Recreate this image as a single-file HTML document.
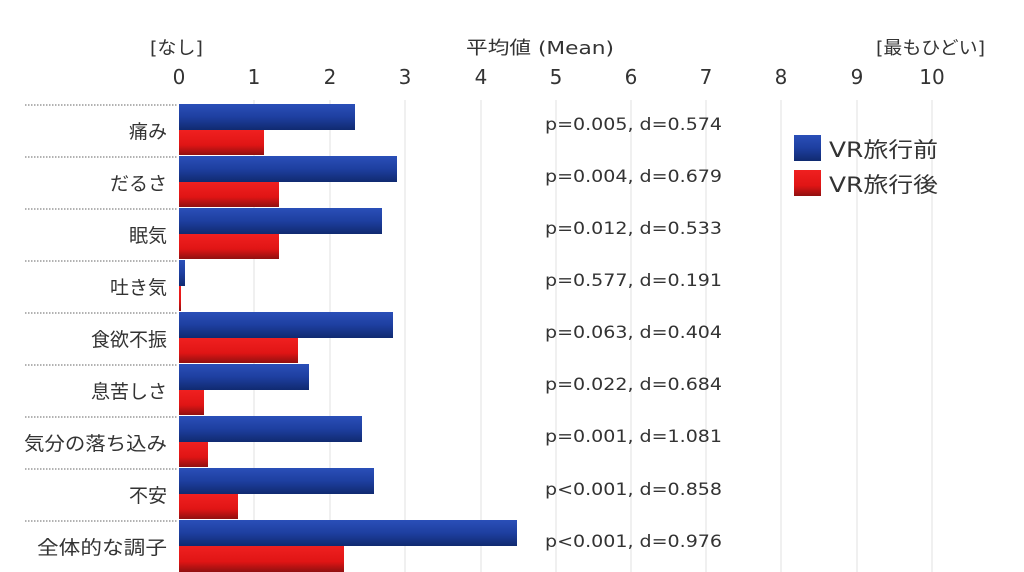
<!DOCTYPE html>
<html><head><meta charset="utf-8"><style>
html,body{margin:0;padding:0;background:#fff;}
svg{display:block;}
text{font-family:"DejaVu Sans","Noto Sans CJK JP",sans-serif;fill:#333;}
</style></head><body>
<svg width="1024" height="572" viewBox="0 0 1024 572" xmlns="http://www.w3.org/2000/svg">
<defs>
<linearGradient id="b" x1="0" y1="0" x2="0" y2="1"><stop offset="0" stop-color="#2a4fb8"/><stop offset="0.5" stop-color="#1e3fa0"/><stop offset="1" stop-color="#102a70"/></linearGradient>
<linearGradient id="r" x1="0" y1="0" x2="0" y2="1"><stop offset="0" stop-color="#f02020"/><stop offset="0.6" stop-color="#e01515"/><stop offset="1" stop-color="#901010"/></linearGradient>
</defs>
<g stroke="#e2e2e2" stroke-width="1">
<line x1="254" y1="100" x2="254" y2="572"/><line x1="330" y1="100" x2="330" y2="572"/><line x1="405" y1="100" x2="405" y2="572"/><line x1="481" y1="100" x2="481" y2="572"/><line x1="556" y1="100" x2="556" y2="572"/><line x1="631" y1="100" x2="631" y2="572"/><line x1="706" y1="100" x2="706" y2="572"/><line x1="781" y1="100" x2="781" y2="572"/><line x1="857" y1="100" x2="857" y2="572"/><line x1="932" y1="100" x2="932" y2="572"/>
</g>
<g stroke="#999" stroke-width="1.5" stroke-dasharray="1.5,1.5">
<line x1="25" y1="105" x2="178" y2="105"/><line x1="25" y1="157" x2="178" y2="157"/><line x1="25" y1="209" x2="178" y2="209"/><line x1="25" y1="261" x2="178" y2="261"/><line x1="25" y1="313" x2="178" y2="313"/><line x1="25" y1="365" x2="178" y2="365"/><line x1="25" y1="417" x2="178" y2="417"/><line x1="25" y1="469" x2="178" y2="469"/><line x1="25" y1="521" x2="178" y2="521"/>
</g>
<g font-size="20" text-anchor="middle">
<text x="179" y="84">0</text><text x="254" y="84">1</text><text x="330" y="84">2</text><text x="405" y="84">3</text><text x="481" y="84">4</text><text x="556" y="84">5</text><text x="631" y="84">6</text><text x="706" y="84">7</text><text x="781" y="84">8</text><text x="857" y="84">9</text><text x="932" y="84">10</text>
</g>
<g font-size="18">
<text x="150" y="54" textLength="53" lengthAdjust="spacingAndGlyphs">[なし]</text>
<text x="466" y="54" textLength="148" lengthAdjust="spacingAndGlyphs">平均値 (Mean)</text>
<text x="876" y="54" textLength="109" lengthAdjust="spacingAndGlyphs">[最もひどい]</text>
</g>
<g>
<rect x="179" y="104" width="176" height="26" fill="url(#b)"/><rect x="179" y="130" width="85" height="25" fill="url(#r)"/>
<rect x="179" y="156" width="218" height="26" fill="url(#b)"/><rect x="179" y="182" width="100" height="25" fill="url(#r)"/>
<rect x="179" y="208" width="203" height="26" fill="url(#b)"/><rect x="179" y="234" width="100" height="25" fill="url(#r)"/>
<rect x="179" y="260" width="6" height="26" fill="url(#b)"/><rect x="179" y="286" width="2" height="25" fill="url(#r)"/>
<rect x="179" y="312" width="214" height="26" fill="url(#b)"/><rect x="179" y="338" width="119" height="25" fill="url(#r)"/>
<rect x="179" y="364" width="130" height="26" fill="url(#b)"/><rect x="179" y="390" width="25" height="25" fill="url(#r)"/>
<rect x="179" y="416" width="183" height="26" fill="url(#b)"/><rect x="179" y="442" width="29" height="25" fill="url(#r)"/>
<rect x="179" y="468" width="195" height="26" fill="url(#b)"/><rect x="179" y="494" width="59" height="25" fill="url(#r)"/>
<rect x="179" y="520" width="338" height="26" fill="url(#b)"/><rect x="179" y="546" width="165" height="26" fill="url(#r)"/>
</g>
<g font-size="19" text-anchor="end">
<text x="167" y="138">痛み</text><text x="167" y="190">だるさ</text><text x="167" y="242">眠気</text><text x="167" y="294">吐き気</text><text x="167" y="346">食欲不振</text><text x="167" y="398">息苦しさ</text><text x="167" y="450" textLength="143" lengthAdjust="spacingAndGlyphs">気分の落ち込み</text><text x="167" y="554" textLength="130" lengthAdjust="spacingAndGlyphs">全体的な調子</text><text x="167" y="502">不安</text>
</g>
<g font-size="17">
<text x="545" y="130" textLength="177" lengthAdjust="spacingAndGlyphs">p=0.005, d=0.574</text><text x="545" y="182" textLength="177" lengthAdjust="spacingAndGlyphs">p=0.004, d=0.679</text><text x="545" y="234" textLength="177" lengthAdjust="spacingAndGlyphs">p=0.012, d=0.533</text><text x="545" y="286" textLength="177" lengthAdjust="spacingAndGlyphs">p=0.577, d=0.191</text><text x="545" y="338" textLength="177" lengthAdjust="spacingAndGlyphs">p=0.063, d=0.404</text><text x="545" y="390" textLength="177" lengthAdjust="spacingAndGlyphs">p=0.022, d=0.684</text><text x="545" y="442" textLength="177" lengthAdjust="spacingAndGlyphs">p=0.001, d=1.081</text><text x="545" y="495" textLength="177" lengthAdjust="spacingAndGlyphs">p&lt;0.001, d=0.858</text><text x="545" y="547" textLength="177" lengthAdjust="spacingAndGlyphs">p&lt;0.001, d=0.976</text>
</g>
<rect x="794" y="135" width="27" height="26" fill="url(#b)"/>
<rect x="794" y="170" width="27" height="26" fill="url(#r)"/>
<g font-size="21"><text x="829" y="157" textLength="109" lengthAdjust="spacingAndGlyphs">VR旅行前</text><text x="829" y="192" textLength="109" lengthAdjust="spacingAndGlyphs">VR旅行後</text></g>
</svg>
</body></html>
